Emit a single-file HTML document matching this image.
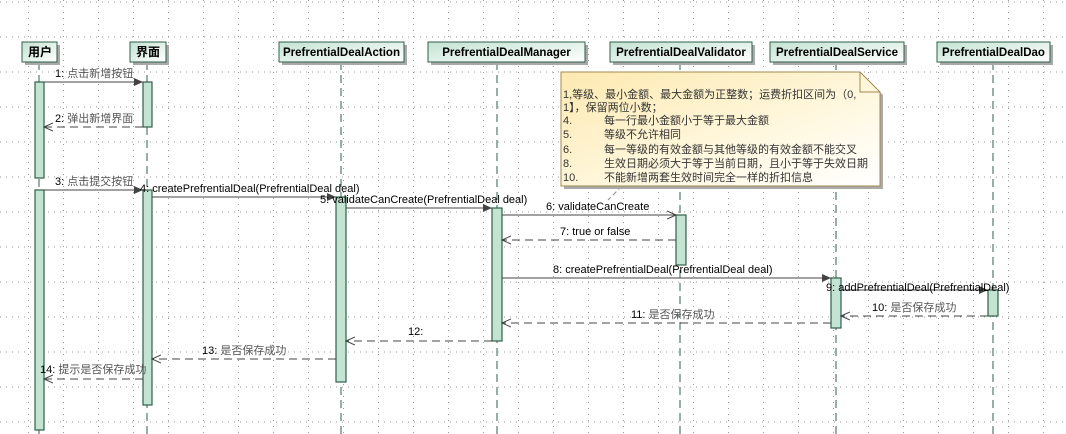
<!DOCTYPE html>
<html><head><meta charset="utf-8"><style>
html,body{margin:0;padding:0;background:#fff;}
svg{display:block;font-family:"Liberation Sans","Noto Sans CJK SC",sans-serif;}
</style></head><body>
<svg width="1066" height="434" xmlns="http://www.w3.org/2000/svg">
<defs>
<pattern id="gh" x="0" y="0" width="6" height="35" patternUnits="userSpaceOnUse">
<rect x="0" y="1.5" width="1" height="1" fill="#9a9a9a"/>
</pattern>
<pattern id="gv" x="-6" y="0" width="35" height="6" patternUnits="userSpaceOnUse">
<rect x="34" y="0" width="1" height="1" fill="#9a9a9a"/>
</pattern>
<linearGradient id="hg" x1="0" y1="0" x2="1" y2="1">
<stop offset="0" stop-color="#c4e3d3"/><stop offset="1" stop-color="#ffffff"/>
</linearGradient>
<linearGradient id="ng" x1="0" y1="0" x2="1" y2="1">
<stop offset="0" stop-color="#fde9b0"/><stop offset="0.6" stop-color="#fff8e0"/><stop offset="1" stop-color="#ffffff"/>
</linearGradient>
<marker id="fa" markerWidth="10" markerHeight="10" refX="9" refY="5" orient="auto" markerUnits="userSpaceOnUse">
<path d="M0,1 L9,5 L0,9 Z" fill="#444"/></marker>
<marker id="oa" markerWidth="10" markerHeight="10" refX="9" refY="5" orient="auto" markerUnits="userSpaceOnUse">
<path d="M0,1 L9,5 L0,9" fill="none" stroke="#444"/></marker>
</defs>
<rect width="1066" height="434" fill="url(#gh)"/>
<rect width="1066" height="434" fill="url(#gv)"/>

<g stroke="#2f5f4a" stroke-dasharray="8,5" stroke-width="1">
<line x1="39" y1="62" x2="39" y2="434"/>
<line x1="147" y1="62" x2="147" y2="434"/>
<line x1="341" y1="62" x2="341" y2="434"/>
<line x1="497" y1="62" x2="497" y2="434"/>
<line x1="680" y1="62" x2="680" y2="434"/>
<line x1="836" y1="62" x2="836" y2="434"/>
<line x1="993" y1="62" x2="993" y2="434"/>
</g>

<g font-weight="bold" font-size="12" fill="#000">
<g><rect x="25" y="45" width="35" height="20" fill="#aaa"/><rect x="22" y="42" width="35" height="20" fill="url(#hg)" stroke="#2f5f4a"/><text x="28" y="56">用户</text></g>
<g><rect x="133" y="45" width="36" height="20" fill="#aaa"/><rect x="130" y="42" width="36" height="20" fill="url(#hg)" stroke="#2f5f4a"/><text x="136" y="56">界面</text></g>
<g><rect x="282" y="45" width="125" height="20" fill="#aaa"/><rect x="279" y="42" width="125" height="20" fill="url(#hg)" stroke="#2f5f4a"/><text x="341.5" y="56" text-anchor="middle" font-size="11.5">PrefrentialDealAction</text></g>
<g><rect x="431" y="45" width="157" height="20" fill="#aaa"/><rect x="428" y="42" width="157" height="20" fill="url(#hg)" stroke="#2f5f4a"/><text x="506.5" y="56" text-anchor="middle" font-size="11.5">PrefrentialDealManager</text></g>
<g><rect x="613" y="45" width="142" height="20" fill="#aaa"/><rect x="610" y="42" width="142" height="20" fill="url(#hg)" stroke="#2f5f4a"/><text x="681" y="56" text-anchor="middle" font-size="11.5">PrefrentialDealValidator</text></g>
<g><rect x="773" y="45" width="134" height="20" fill="#aaa"/><rect x="770" y="42" width="134" height="20" fill="url(#hg)" stroke="#2f5f4a"/><text x="837" y="56" text-anchor="middle" font-size="11.5">PrefrentialDealService</text></g>
<g><rect x="940" y="45" width="113" height="20" fill="#aaa"/><rect x="937" y="42" width="113" height="20" fill="url(#hg)" stroke="#2f5f4a"/><text x="993.5" y="56" text-anchor="middle" font-size="11.5">PrefrentialDealDao</text></g>
</g>

<g fill="#c3e3d3" stroke="#2f5f4a" stroke-width="1.2">
<rect x="35" y="82" width="9" height="96"/>
<rect x="35" y="190" width="9" height="240"/>
<rect x="143" y="82" width="9" height="45"/>
<rect x="143" y="190" width="9" height="215"/>
<rect x="336" y="197" width="10" height="185"/>
<rect x="492" y="208" width="10" height="133"/>
<rect x="676" y="215" width="10" height="50"/>
<rect x="831" y="278" width="10" height="50"/>
<rect x="988" y="290" width="10" height="26"/>
</g>

<line x1="622" y1="186" x2="608" y2="200" stroke="#888" stroke-dasharray="5,3"/>
<path d="M564,75 L863,75 L883,95 L883,189 L564,189 Z" fill="#aaa"/>
<path d="M561,72 L860,72 L880,92 L880,186 L561,186 Z" fill="url(#ng)" stroke="#a08a50"/>
<path d="M860,72 L860,92 L880,92" fill="none" stroke="#a08a50"/>
<g font-size="11" fill="#333">
<text x="563" y="98">1,等级、最小金额、最大金额为正整数；运费折扣区间为（0,</text>
<text x="563" y="111">1】，保留两位小数；</text>
<text x="563" y="124">4.</text><text x="604" y="124">每一行最小金额小于等于最大金额</text>
<text x="563" y="138">5.</text><text x="604" y="138">等级不允许相同</text>
<text x="563" y="153">6.</text><text x="604" y="153">每一等级的有效金额与其他等级的有效金额不能交叉</text>
<text x="563" y="167">8.</text><text x="604" y="167">生效日期必须大于等于当前日期，且小于等于失效日期</text>
<text x="563" y="181">10.</text><text x="604" y="181">不能新增两套生效时间完全一样的折扣信息</text>
</g>

<g stroke="#444" stroke-width="1" fill="none">
<line x1="44" y1="82" x2="143" y2="82" marker-end="url(#fa)"/>
<line x1="143" y1="127" x2="44" y2="127" stroke-dasharray="8,5" marker-end="url(#oa)"/>
<line x1="44" y1="190" x2="143" y2="190" marker-end="url(#fa)"/>
<line x1="152" y1="197" x2="336" y2="197" marker-end="url(#fa)"/>
<line x1="346" y1="208" x2="492" y2="208" marker-end="url(#fa)"/>
<line x1="502" y1="215" x2="676" y2="215" marker-end="url(#oa)"/>
<line x1="676" y1="240" x2="502" y2="240" stroke-dasharray="8,5" marker-end="url(#oa)"/>
<line x1="502" y1="278" x2="831" y2="278" marker-end="url(#fa)"/>
<line x1="841" y1="290" x2="988" y2="290" marker-end="url(#fa)"/>
<line x1="988" y1="316" x2="841" y2="316" stroke-dasharray="8,5" marker-end="url(#oa)"/>
<line x1="831" y1="323" x2="502" y2="323" stroke-dasharray="8,5" marker-end="url(#oa)"/>
<line x1="492" y1="341" x2="346" y2="341" stroke-dasharray="8,5" marker-end="url(#oa)"/>
<line x1="336" y1="359" x2="152" y2="359" stroke-dasharray="8,5" marker-end="url(#oa)"/>
<line x1="143" y1="379" x2="44" y2="379" stroke-dasharray="8,5" marker-end="url(#oa)"/>
</g>
<g font-size="11" fill="#000">
<text x="55" y="77">1: <tspan fill="#555">点击新增按钮</tspan></text>
<text x="55" y="122">2: <tspan fill="#555">弹出新增界面</tspan></text>
<text x="55" y="185">3: <tspan fill="#555">点击提交按钮</tspan></text>
<text x="140" y="192">4: createPrefrentialDeal(PrefrentialDeal deal)</text>
<text x="320" y="203">5: validateCanCreate(PrefrentialDeal deal)</text>
<text x="546" y="210">6: validateCanCreate</text>
<text x="560" y="235">7: true or false</text>
<text x="553" y="273">8: createPrefrentialDeal(PrefrentialDeal deal)</text>
<text x="826" y="291">9: addPrefrentialDeal(PrefrentialDeal)</text>
<text x="872" y="311">10: <tspan fill="#555">是否保存成功</tspan></text>
<text x="631" y="318">11: <tspan fill="#555">是否保存成功</tspan></text>
<text x="408" y="335">12:</text>
<text x="202" y="354">13: <tspan fill="#555">是否保存成功</tspan></text>
<text x="40" y="373">14: <tspan fill="#555">提示是否保存成功</tspan></text>
</g>
</svg>
</body></html>
